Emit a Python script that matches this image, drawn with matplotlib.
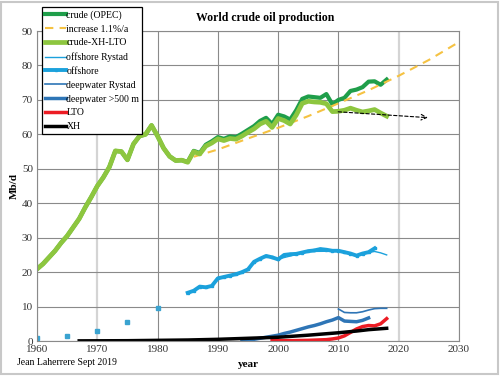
import matplotlib
matplotlib.use('Agg')
import matplotlib.pyplot as plt
import numpy as np
from matplotlib.patches import Rectangle

plt.rcParams['font.family'] = ['Liberation Serif', 'DejaVu Serif']

# ---------------- data (Mb/d) ----------------
crude_years = list(range(1960, 2019))
crude_opec = [20.9, 22.4, 24.3, 26.2, 28.5, 30.5, 33.0, 35.5, 38.8, 41.8,
              45.0, 47.5, 50.5, 55.2, 55.0, 52.6, 57.2, 59.5, 60.0, 62.6,
              59.5, 56.0, 53.6, 52.4, 52.5, 52.0, 55.2, 54.6, 57.0, 58.0,
              59.2, 58.7, 59.4, 59.2, 60.2, 61.3, 62.4, 63.9, 64.8, 63.0,
              65.7, 65.2, 64.3, 67.0, 70.3, 71.0, 70.8, 70.6, 71.7, 68.7,
              70.0, 70.6, 72.6, 73.0, 73.7, 75.3, 75.4, 74.4, 75.9]
crude_xh_lto = [20.9, 22.4, 24.3, 26.2, 28.5, 30.5, 33.0, 35.5, 38.8, 41.8,
                45.0, 47.5, 50.5, 55.2, 55.0, 52.6, 57.2, 59.5, 60.0, 62.6,
                59.5, 56.0, 53.6, 52.4, 52.5, 51.9, 55.0, 54.3, 56.6, 57.5,
                58.7, 58.2, 58.8, 58.6, 59.5, 60.6, 61.6, 63.0, 63.8, 62.0,
                64.6, 64.0, 63.0, 65.6, 69.0, 69.6, 69.4, 69.3, 68.9, 66.6,
                66.7, 67.0, 67.6, 67.0, 66.5, 66.8, 67.2, 66.2, 65.3]

trend_years = [1986, 1990, 1995, 2000, 2005, 2010, 2015, 2020, 2025, 2030]
trend_vals = [53.5, 55.6, 58.8, 61.9, 65.3, 69.0, 72.8, 77.0, 81.6, 86.8]

off_early_years = [1960, 1965, 1970, 1975, 1980]
off_early_vals = [1.0, 1.5, 3.0, 5.5, 9.5]
off_years = list(range(1985, 2017))
off_vals = [14.0, 14.6, 15.8, 15.6, 16.0, 18.2, 18.6, 19.0, 19.4, 20.0,
            20.8, 23.0, 23.9, 24.7, 24.3, 23.7, 25.0, 25.2, 25.3, 25.7,
            26.1, 26.3, 26.7, 26.5, 26.2, 26.2, 25.8, 25.4, 24.8, 25.4,
            25.8, 26.9]

off_ry_years = [2000, 2005, 2010, 2013, 2015, 2016, 2017, 2018]
off_ry_vals = [23.8, 26.0, 26.1, 24.8, 25.7, 26.0, 25.6, 25.0]

dw_ry_years = list(range(2010, 2019))
dw_ry_vals = [9.3, 8.3, 8.2, 8.2, 8.5, 9.0, 9.4, 9.5, 9.5]

dw_years = list(range(1994, 2016))
dw_vals = [0.1, 0.3, 0.5, 0.8, 1.1, 1.4, 1.7, 2.2, 2.6, 3.1, 3.6,
           4.1, 4.5, 5.0, 5.6, 6.1, 6.8, 5.8, 5.7, 5.6, 6.0, 6.7]

lto_years = [1999, 2002, 2005, 2008, 2009, 2010, 2011, 2012, 2013, 2014,
             2015, 2016, 2017, 2018]
lto_vals = [0.1, 0.1, 0.2, 0.4, 0.6, 0.9, 1.5, 2.5, 3.5, 4.2, 4.5, 4.4,
            5.0, 6.5]

xh_years = [1967, 1975, 1980, 1985, 1990, 1995, 2000, 2005, 2010, 2013,
            2015, 2018]
xh_vals = [0.05, 0.1, 0.2, 0.3, 0.5, 0.8, 1.1, 1.7, 2.4, 2.9, 3.3, 3.7]

# ---------------- figure ----------------
fig = plt.figure(figsize=(5, 3.76), dpi=100)
ax = fig.add_axes([0.074, 0.093, 0.844, 0.8245])

C_DGREEN = '#1f9e4a'
C_LGREEN = '#8dc63f'
C_YELLOW = '#f5c242'
C_LBLUE = '#1ba1dc'
C_BLUE = '#2e75b6'
C_RED = '#ec1c24'

ax.plot(crude_years, crude_opec, color=C_DGREEN, lw=3, label='crude (OPEC)')
ax.plot(trend_years, trend_vals, color=C_YELLOW, lw=1.5, ls=(0, (4, 3)),
        label='increase 1.1%/a')
ax.plot(crude_years, crude_xh_lto, color=C_LGREEN, lw=3.4, label='crude-XH-LTO')
ax.plot(off_ry_years, off_ry_vals, color=C_LBLUE, lw=1.0, label='offshore Rystad')
ax.plot(off_years, off_vals, color=C_LBLUE, lw=2.8, marker='s', ms=2,
        label='offshore')
ax.plot(off_early_years, off_early_vals, color=C_LBLUE, ls='none', marker='s',
        ms=3.5, markerfacecolor='#3aa3d0', markeredgecolor='#3aa3d0')
ax.plot(dw_ry_years, dw_ry_vals, color=C_BLUE, lw=1.2, label='deepwater Rystad')
ax.plot(dw_years, dw_vals, color=C_BLUE, lw=2.5, label='deepwater >500 m')
ax.plot(lto_years, lto_vals, color=C_RED, lw=2.5, label='LTO')
ax.plot(xh_years, xh_vals, color='black', lw=2.5, label='XH')

# trend arrow for crude-XH-LTO
ax.annotate('', xy=(2025.3, 64.8), xytext=(2009.5, 66.6),
            arrowprops=dict(arrowstyle='->', color='black', lw=0.8,
                            linestyle=(0, (3, 2))))

ax.set_xlim(1960, 2030)
ax.set_ylim(0, 90)
ax.set_xticks(range(1960, 2031, 10))
ax.set_yticks(range(0, 91, 10))
ax.grid(True, color='#8a8a8a', lw=0.8)
for gl, yr in zip(ax.get_xgridlines(), range(1960, 2031, 10)):
    if yr in (1970, 2020):
        gl.set_color('#d4d4d4')
        gl.set_linewidth(1.6)
ax.set_axisbelow(True)
for sp in ax.spines.values():
    sp.set_color('#8a8a8a')
    sp.set_linewidth(0.8)
ax.tick_params(length=0, labelsize=8, pad=3, colors='#333333')

ax.set_ylabel('Mb/d', fontsize=8, fontweight='bold', labelpad=2)
ax.set_xlabel('year', fontsize=8, fontweight='bold', labelpad=4)

fig.text(0.53, 0.952, 'World crude oil production', ha='center', va='center',
         fontsize=8.5, fontweight='bold')
fig.text(0.034, 0.037, 'Jean Laherrere Sept 2019', ha='left', va='center',
         fontsize=7)

leg = ax.legend(loc='upper left', bbox_to_anchor=(0.084, 0.981),
                bbox_transform=fig.transFigure, fontsize=7, frameon=True,
                fancybox=False, edgecolor='black', framealpha=1,
                handlelength=2.2, handletextpad=0.0, borderpad=0.3,
                labelspacing=0.5, borderaxespad=0)
leg.get_frame().set_linewidth(0.9)

# light grey outer border
fig.patches.append(Rectangle((0.002, 0.004), 0.994, 0.99, transform=fig.transFigure,
                             fill=False, edgecolor='#c8c8c8', lw=1.5))

fig.savefig('out.png', dpi=100, facecolor='white')
